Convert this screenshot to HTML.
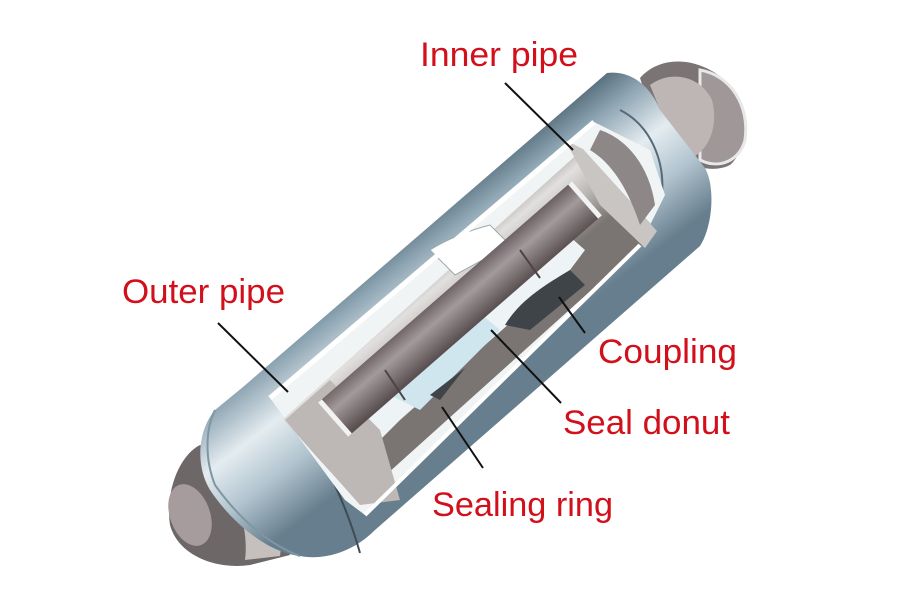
<!DOCTYPE html>
<html><head><meta charset="utf-8"><style>
html,body{margin:0;padding:0;background:#fff}
svg{display:block}
text{font-family:"Liberation Sans",Arial,sans-serif;fill:#d2101c;font-size:34px}
</style></head><body>
<svg width="900" height="591" viewBox="0 0 900 591" xmlns="http://www.w3.org/2000/svg">
<defs>
<linearGradient id="og" gradientUnits="userSpaceOnUse" x1="395" y1="232" x2="500" y2="370">
<stop offset="0" stop-color="#566d7b"/><stop offset="0.18" stop-color="#8ea5b3"/><stop offset="0.45" stop-color="#e4ecf0"/><stop offset="0.7" stop-color="#b3c5d0"/><stop offset="1" stop-color="#667e8d"/>
</linearGradient>
<linearGradient id="ig" gradientUnits="userSpaceOnUse" x1="430" y1="250" x2="490" y2="320">
<stop offset="0" stop-color="#8a8584"/><stop offset="0.35" stop-color="#e2e0de"/><stop offset="0.65" stop-color="#b8b4b2"/><stop offset="1" stop-color="#7a7473"/>
</linearGradient>
<linearGradient id="rg" gradientUnits="userSpaceOnUse" x1="445" y1="290" x2="475" y2="325">
<stop offset="0" stop-color="#6a5f62"/><stop offset="0.4" stop-color="#a39a9c"/><stop offset="1" stop-color="#5a5052"/>
</linearGradient>
</defs>
<!-- right stub -->
<path d="M640,78 C660,55 700,55 730,85 C750,105 748,150 730,165 C710,175 680,165 660,140 Z" fill="#7b7474"/>
<path d="M700,70 C730,75 750,105 745,140 C740,160 720,170 700,160 Z" fill="#a09799" stroke="#e8e8e8" stroke-width="3"/>
<path d="M650,85 C670,70 700,75 712,100 C720,130 705,160 680,160 Z" fill="#bdb6b5"/>
<!-- left stub -->
<path d="M200,445 C180,455 165,490 170,525 C178,555 215,570 250,565 L290,555 L250,450 Z" fill="#6e6767"/>
<ellipse cx="190" cy="515" rx="20" ry="32" transform="rotate(-20 190 515)" fill="#a69c9e"/>
<path d="M205,470 C230,480 250,520 245,560 L280,556 C285,520 270,475 245,455 Z" fill="#c5c0be"/>
<!-- outer body -->
<path d="M243,387 L607,73 C630,70 650,85 660,110 L705,168 C716,188 712,228 700,246 L375,530 C350,555 320,560 300,556 C265,552 230,520 210,490 C195,465 198,430 215,410 Z" fill="url(#og)"/>
<path d="M215,410 C205,430 205,460 215,485 C240,520 270,545 300,556" fill="none" stroke="#7f96a3" stroke-width="2"/>
<path d="M290,407 C320,450 345,500 360,553" fill="none" stroke="#3d4c55" stroke-width="2"/>
<path d="M620,110 C650,125 665,160 662,195" fill="none" stroke="#556a76" stroke-width="2"/>
<!-- window cut-out -->
<path d="M270,398 L594,122 L650,150 L665,195 L640,245 L365,515 L345,500 Z" fill="#f1f4f5"/>
<!-- inner pipe band -->
<path d="M283,419 L583,149 L657,231 L357,501 Z" fill="url(#ig)"/>
<!-- inner light sealing area -->
<path d="M330,410 L545,215 L585,250 L570,270 L400,420 L370,450 Z" fill="#eef3f5"/>
<path d="M380,390 L470,305 L500,330 L420,410 Z" fill="#cfe6ee"/>
<path d="M430,250 C445,240 470,230 490,225 L510,245 L455,275 Z" fill="#ffffff" stroke="#9aa" stroke-width="1"/>
<path d="M505,325 C520,300 545,285 570,270 L585,285 L530,330 Z" fill="#3e4448"/>
<path d="M430,395 L465,368 L440,400 Z" fill="#3e4448"/>
<!-- couplings -->
<path d="M565,140 L583,149 L657,231 L645,248 L600,205 Z" fill="#c9c5c3"/>
<path d="M600,130 C630,140 650,170 655,205 L640,225 C630,195 615,165 590,150 Z" fill="#8d8887"/>
<path d="M285,420 L330,380 L380,430 L400,500 L360,505 Z" fill="#bdb8b6"/>
<!-- rod -->
<path d="M320,401 L570,183 L600,217 L350,435 Z" fill="url(#rg)"/>
<path d="M385,370 L405,400" stroke="#4e4446" stroke-width="2"/>
<path d="M520,250 L540,278" stroke="#4e4446" stroke-width="2"/>
<path d="M320,401 L350,435" stroke="#f2f2f2" stroke-width="5"/>
<path d="M570,183 L600,217" stroke="#f2f2f2" stroke-width="5"/>
<path d="M270,398 L594,122" stroke="#ffffff" stroke-width="5"/>
<path d="M640,245 L365,515" stroke="#ffffff" stroke-width="4"/>
<!-- leader lines -->
<g stroke="#111" stroke-width="2">
<line x1="505" y1="83" x2="573" y2="150"/>
<line x1="218" y1="323" x2="288" y2="392"/>
<line x1="559" y1="297" x2="585" y2="333"/>
<line x1="491" y1="330" x2="561" y2="403"/>
<line x1="442" y1="407" x2="483" y2="468"/>
</g>
<!-- labels -->
<text x="420" y="66" textLength="158" lengthAdjust="spacingAndGlyphs">Inner pipe</text>
<text x="122" y="303" textLength="163" lengthAdjust="spacingAndGlyphs">Outer pipe</text>
<text x="598" y="363" textLength="139" lengthAdjust="spacingAndGlyphs">Coupling</text>
<text x="563" y="434" textLength="167" lengthAdjust="spacingAndGlyphs">Seal donut</text>
<text x="432" y="516" textLength="181" lengthAdjust="spacingAndGlyphs">Sealing ring</text>
</svg>
</body></html>
